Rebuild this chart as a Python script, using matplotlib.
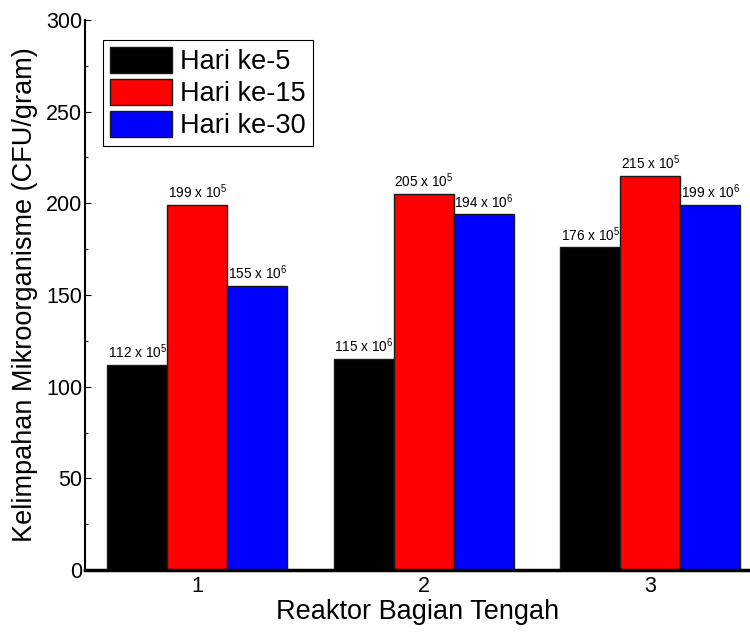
import numpy as np
import matplotlib
matplotlib.use("Agg")
import matplotlib.pyplot as plt
from matplotlib.ticker import MultipleLocator

plt.rcParams['font.family'] = ['Liberation Sans', 'DejaVu Sans']
plt.rcParams['mathtext.fontset'] = 'custom'
plt.rcParams['mathtext.rm'] = 'Liberation Sans'
plt.rcParams['mathtext.it'] = 'Liberation Sans'

# data
reaktor = [1, 2, 3]
series = ['Hari ke-5', 'Hari ke-15', 'Hari ke-30']
hari5 = [112, 115, 176]
hari15 = [199, 205, 215]
hari30 = [155, 194, 199]
exp5 = [5, 6, 5]
exp15 = [5, 5, 5]
exp30 = [6, 6, 6]
colors = ['black', '#ff0000', '#0000ff']

fig = plt.figure(figsize=(7.5, 6.33), dpi=100)
ax = fig.add_axes([85 / 750, 1 - 570 / 633, 665 / 750, 550 / 633])

w = 0.265
x = np.array(reaktor, dtype=float)
for i, (vals, exps) in enumerate([(hari5, exp5), (hari15, exp15), (hari30, exp30)]):
    pos = x + (i - 1) * w
    ax.bar(pos, vals, width=w, color=colors[i], edgecolor='#1a1a1a',
           linewidth=1.0, label=series[i], zorder=2)
    for px, v, e in zip(pos, vals, exps):
        ax.text(px, v + 2, r'%d x 10$^{%d}$' % (v, e), ha='center',
                va='bottom', fontsize=9.8)

ax.set_xlim(0.504, 3.44)
ax.set_ylim(0, 300)
ax.set_xticks(reaktor)
ax.yaxis.set_major_locator(MultipleLocator(50))
ax.yaxis.set_minor_locator(MultipleLocator(25))
ax.tick_params(axis='y', which='major', direction='in', length=4, width=0.8,
               labelsize=15.5, pad=2)
ax.tick_params(axis='y', which='minor', direction='in', length=2, width=0.6)
ax.tick_params(axis='x', direction='in', length=0, labelsize=15.5, pad=4)

ax.spines['top'].set_visible(False)
ax.spines['right'].set_visible(False)
ax.spines['left'].set_linewidth(1.5)
ax.spines['bottom'].set_linewidth(2.5)

ax.set_xlabel('Reaktor Bagian Tengah', fontsize=19.5, labelpad=2)
ax.set_ylabel('Kelimpahan Mikroorganisme (CFU/gram)', fontsize=19.5, labelpad=6)

leg = ax.legend(loc='upper left', bbox_to_anchor=(0.027, 0.964), borderaxespad=0,
                fontsize=19.5, handlelength=2.3, handleheight=1.1, labelspacing=0.15,
                handletextpad=0.3, borderpad=0.25, fancybox=False, framealpha=1)
leg.get_frame().set_edgecolor('black')
leg.get_frame().set_linewidth(0.8)

fig.savefig('out.png', dpi=100)
